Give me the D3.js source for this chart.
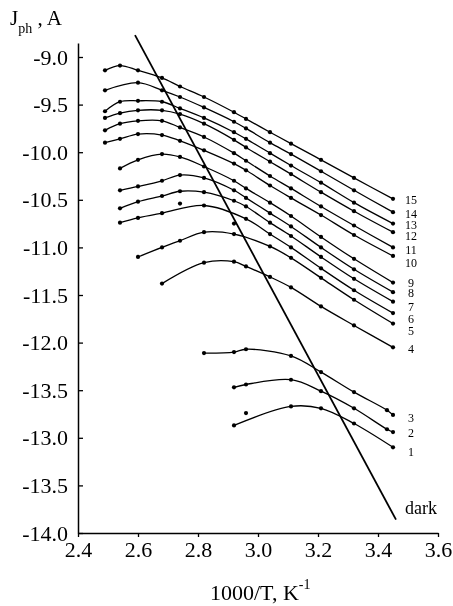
<!DOCTYPE html>
<html>
<head>
<meta charset="utf-8">
<script src="https://cdn.jsdelivr.net/npm/d3@7"></script>
<style>
    body { margin: 0; background: #fff; }
    svg { display: block; will-change: transform; }
    svg text { font-family: "Liberation Serif", "Times New Roman", serif; fill: #000; -webkit-font-smoothing: antialiased; }
    .axis text { font-size: 22px; }
</style>
</head>
<body>
<svg id="chart" width="453" height="606"></svg>
<script>
// temperature columns (1000/T) where the points were measured
const xCols = [2.49, 2.54, 2.60, 2.68, 2.74, 2.82, 2.92, 2.96, 3.04, 3.11, 3.21, 3.32, 3.45];
const xColsLow = [2.82, 2.92, 2.96, 3.11, 3.21, 3.32, 3.43, 3.45];

// photocurrent, one array per curve (null = no point there)
const j15 = [-9.14, -9.09, -9.14, -9.22, -9.31, -9.42, -9.58, -9.65, -9.79, -9.91, -10.08, -10.27, -10.49];
const j14 = [-9.35, null, -9.27, -9.35, -9.42, -9.53, -9.68, -9.75, -9.90, -10.02, -10.20, -10.40, -10.63];
const j13 = [-9.57, -9.47, -9.46, -9.47, -9.54, -9.64, -9.79, -9.86, -10.01, -10.14, -10.32, -10.53, -10.75];
const j12 = [-9.64, -9.59, -9.56, -9.56, -9.60, -9.70, -9.87, -9.95, -10.10, -10.23, -10.42, -10.62, -10.84];
const j11 = [-9.77, -9.70, -9.67, -9.67, -9.74, -9.84, -10.01, -10.09, -10.25, -10.38, -10.57, -10.77, -11.00];
const j10 = [-9.90, -9.86, -9.81, -9.82, -9.88, -9.98, -10.12, -10.19, -10.35, -10.48, -10.66, -10.87, -11.09];
const j9 = [null, -10.17, -10.08, -10.02, -10.05, -10.15, -10.30, -10.38, -10.53, -10.67, -10.89, -11.12, -11.37];
const j8 = [null, -10.40, -10.36, -10.30, -10.24, -10.27, -10.40, -10.48, -10.64, -10.78, -11.00, -11.23, -11.47];
const j7 = [null, -10.59, -10.52, -10.46, -10.41, -10.42, -10.51, -10.57, -10.74, -10.88, -11.10, -11.33, -11.57];
const j6 = [null, -10.74, -10.69, -10.64, null, -10.56, null, -10.70, -10.86, -11.00, -11.22, -11.45, -11.69];
const j5 = [null, null, -11.10, -11.00, -10.93, -10.84, -10.86, null, -10.99, -11.11, -11.32, -11.55, -11.80];
const j4 = [null, null, null, -11.38, null, -11.16, -11.15, -11.20, -11.31, -11.42, -11.62, -11.82, -12.05];
const j3 = [-12.11, -12.10, -12.07, -12.14, -12.31, -12.52, -12.71, -12.76];
const j2 = [null, -12.47, -12.44, -12.39, -12.51, -12.69, -12.91, -12.94];
const j1 = [null, -12.87, null, -12.67, -12.69, -12.85, null, -13.10];

// points that lie off their fitted curve
const strayX = [2.74, 2.92, 2.96];
const strayY = [-10.54, -10.75, -12.74];

// dark current line
const darkX = [2.59, 3.46];
const darkY = [-8.77, -13.86];

// curve numbers and the level their label sits at
const curveIds = [15, 14, 13, 12, 11, 10, 9, 8, 7, 6, 5, 4, 3, 2, 1];
const labelY = [-10.50, -10.65, -10.76, -10.88, -11.03, -11.16, -11.37, -11.48, -11.62, -11.75, -11.88, -12.07, -12.79, -12.95, -13.15];

const xTicks = [2.4, 2.6, 2.8, 3.0, 3.2, 3.4, 3.6];
const xTickLabels = ["2.4", "2.6", "2.8", "3.0", "3.2", "3.4", "3.6"];
const yTicks = [-9.0, -9.5, -10.0, -10.5, -11.0, -11.5, -12.0, -12.5, -13.0, -13.5, -14.0];
const yTickLabels = ["-9.0", "-9.5", "-10.0", "-10.5", "-11.0", "-11.5", "-12.0", "-13.5", "-13.0", "-13.5", "-14.0"];

const svg = d3.select("#chart");

const X = d3.scaleLinear().domain([2.4, 3.6]).range([78, 438]);
const Y = d3.scaleLinear().domain([-14, -9]).range([533, 57]);
const yTop = -8.853;

function toPoints(xs, ys) {
    const pts = [];
    ys.forEach(function (v, i) {
        if (v !== null) pts.push([xs[i], v]);
    });
    return pts;
}

const curves = [j15, j14, j13, j12, j11, j10, j9, j8, j7, j6, j5, j4].map(function (ys) {
    return toPoints(xCols, ys);
}).concat([j3, j2, j1].map(function (ys) {
    return toPoints(xColsLow, ys);
}));

// axes
const yAxis = d3.axisLeft(d3.scaleLinear().domain([-14, yTop]).range([Y(-14), Y(yTop)]))
    .tickValues(yTicks)
    .tickFormat(function (d, i) { return yTickLabels[i]; })
    .tickSizeInner(-5)
    .tickSizeOuter(0)
    .tickPadding(10);

const xAxis = d3.axisBottom(X)
    .tickValues(xTicks)
    .tickFormat(function (d, i) { return xTickLabels[i]; })
    .tickSizeInner(4)
    .tickSizeOuter(0)
    .tickPadding(4);

const gy = svg.append("g").attr("class", "axis").attr("transform", `translate(${X(2.4)},0)`).call(yAxis);
const gx = svg.append("g").attr("class", "axis").attr("transform", `translate(0,${Y(-14)})`).call(xAxis);

[gx, gy].forEach(function (g) {
    // drop the axis' own font attributes so the css serif face is used
    g.attr("font-family", null).attr("font-size", null);
    g.select(".domain").attr("stroke", "#000").attr("stroke-width", 1.5);
    g.selectAll(".tick line").attr("stroke", "#000").attr("stroke-width", 1.3);
    g.selectAll(".tick text").attr("fill", "#000");
});

// fitted curves
const line = d3.line()
    .x(function (d) { return X(d[0]); })
    .y(function (d) { return Y(d[1]); })
    .curve(d3.curveCatmullRom.alpha(0.5));

svg.append("g").selectAll("path.curve")
    .data(curves)
    .enter()
    .append("path")
    .attr("class", "curve")
    .attr("d", line)
    .attr("fill", "none")
    .attr("stroke", "#000")
    .attr("stroke-width", 1.3);

// measured points
const allPts = curves.flat().concat(strayX.map(function (x, i) { return [x, strayY[i]]; }));
svg.append("g").selectAll("circle")
    .data(allPts)
    .enter()
    .append("circle")
    .attr("cx", function (d) { return X(d[0]); })
    .attr("cy", function (d) { return Y(d[1]); })
    .attr("r", 2.1)
    .attr("fill", "#000");

// dark current
svg.append("path")
    .attr("d", d3.line().x(function (d) { return X(d); }).y(function (d, i) { return Y(darkY[i]); })(darkX))
    .attr("fill", "none")
    .attr("stroke", "#000")
    .attr("stroke-width", 1.8);

svg.append("text")
    .attr("x", X(3.49))
    .attr("y", Y(-13.80))
    .style("font-size", "18px")
    .text("dark");

// curve numbers
svg.append("g").selectAll("text")
    .data(curveIds)
    .enter()
    .append("text")
    .attr("x", X(3.45) + 18)
    .attr("y", function (d, i) { return Y(labelY[i]); })
    .attr("dy", "0.35em")
    .attr("text-anchor", "middle")
    .style("font-size", "12px")
    .text(function (d) { return d; });

// axis titles
const yt = svg.append("text").attr("x", 10).attr("y", 25).style("font-size", "21px");
yt.append("tspan").text("J");
yt.append("tspan").attr("dy", 8).style("font-size", "14px").text("ph");
yt.append("tspan").attr("dy", -8).text(" , A");

const xt = svg.append("text").attr("x", 210).attr("y", 600).style("font-size", "22px");
xt.append("tspan").text("1000/T, K");
xt.append("tspan").attr("dy", -11).style("font-size", "14px").text("-1");
</script>
</body>
</html>
